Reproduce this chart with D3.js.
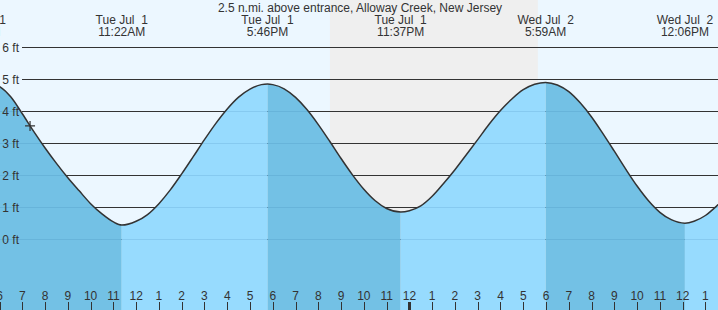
<!DOCTYPE html>
<html>
<head>
<meta charset="utf-8">
<script src="https://cdn.jsdelivr.net/npm/d3@7"></script>
<style>
  html, body { margin: 0; padding: 0; background: #fff; }
  svg { display: block; }
  text { font-family: "Liberation Sans", Arial, sans-serif; font-size: 12px; fill: #333; }
</style>
</head>
<body>
<div id="chart"></div>
<script>
// ---- data (hours since Jul 1 00:00, heights in ft) ----
const title = "2.5 n.mi. above entrance, Alloway Creek, New Jersey";

const tideTimes = [5.13, 6, 6.5, 7, 7.5, 8, 8.5, 9, 9.5, 10, 10.5, 11, 11.37,
  12, 12.5, 13, 13.5, 14, 14.5, 15, 15.5, 16, 16.5, 17, 17.5, 17.77,
  18, 18.5, 19, 19.5, 20, 20.5, 21, 21.5, 22, 22.5, 23, 23.62,
  24, 24.5, 25, 25.5, 26, 26.5, 27, 27.5, 28, 28.5, 29, 29.5, 29.98,
  30.5, 31, 31.5, 32, 32.5, 33, 33.5, 34, 34.5, 35, 35.5, 36.1,
  36.5, 37, 37.5, 38];
const tideHeights = [4.95, 4.78, 4.45, 3.93, 3.38, 2.86, 2.38, 1.93, 1.52, 1.12, 0.80, 0.55, 0.45,
  0.57, 0.78, 1.12, 1.55, 2.05, 2.58, 3.12, 3.63, 4.08, 4.45, 4.70, 4.84, 4.86,
  4.84, 4.71, 4.44, 4.06, 3.59, 3.07, 2.53, 2.02, 1.57, 1.21, 0.97, 0.86,
  0.90, 1.05, 1.35, 1.75, 2.18, 2.65, 3.12, 3.60, 4.03, 4.39, 4.68, 4.85, 4.91,
  4.83, 4.62, 4.27, 3.83, 3.31, 2.76, 2.20, 1.67, 1.21, 0.85, 0.62, 0.51,
  0.57, 0.75, 1.05, 1.40];

const extremeTimes = [5.13, 11.367, 17.767, 23.617, 29.983, 36.1];
const extremeDays = ["Tue Jul  1", "Tue Jul  1", "Tue Jul  1", "Tue Jul  1", "Wed Jul  2", "Wed Jul  2"];
const extremeClock = ["5:08AM", "11:22AM", "5:46PM", "11:37PM", "5:59AM", "12:06PM"];

const nightStart = 20.51;   // sunset Jul 1
const nightEnd = 29.64;     // sunrise Jul 2

const nowTime = 7.34;
const nowHeight = 3.55;

const yTicks = [0, 1, 2, 3, 4, 5, 6];
const yTickLabels = ["0 ft", "1 ft", "2 ft", "3 ft", "4 ft", "5 ft", "6 ft"];
const hourTicks = d3.range(6, 38);

// ---- layout ----
const W = 718, H = 310;
const x = d3.scaleLinear().domain([6.0207, 37.553]).range([0, W]);
const y = d3.scaleLinear().domain([0, 6]).range([239.5, 47.5]);

const svg = d3.select("#chart").append("svg").attr("width", W).attr("height", H);

// background: day and night
svg.append("rect").attr("x", 0).attr("y", 0).attr("width", W).attr("height", H).attr("fill", "#ecf7ff");
svg.append("rect").attr("x", x(nightStart)).attr("y", 0)
  .attr("width", x(nightEnd) - x(nightStart)).attr("height", H).attr("fill", "#efefef");

// grid lines (dark)
svg.append("g").selectAll("line").data(yTicks).join("line")
  .attr("x1", 22).attr("x2", W)
  .attr("y1", d => y(d)).attr("y2", d => y(d))
  .attr("stroke", "#333").attr("stroke-width", 1);

// tide area, coloured by falling / rising segment
const pts = tideTimes.map((t, i) => [t, tideHeights[i]]);
const area = d3.area().x(d => x(d[0])).y0(H).y1(d => y(d[1])).curve(d3.curveMonotoneX);
const line = d3.line().x(d => x(d[0])).y(d => y(d[1])).curve(d3.curveMonotoneX);

const defs = svg.append("defs");
const bounds = [x.domain()[0] - 1].concat(extremeTimes.slice(1)).concat([x.domain()[1] + 1]);
// first segment (before first low) is falling
for (let i = 0; i < bounds.length - 1; i++) {
  const id = "seg" + i;
  defs.append("clipPath").attr("id", id).append("rect")
    .attr("x", x(bounds[i])).attr("y", 0)
    .attr("width", x(bounds[i + 1]) - x(bounds[i])).attr("height", H);
  const falling = (i % 2 === 0);
  svg.append("path").datum(pts).attr("d", area)
    .attr("clip-path", `url(#${id})`)
    .attr("fill", falling ? "#73c1e5" : "#97dbfe");
}

// faint grid lines under water
defs.append("clipPath").attr("id", "water").append("path").datum(pts).attr("d", area);
svg.append("g").attr("clip-path", "url(#water)").selectAll("line").data(yTicks).join("line")
  .attr("x1", 0).attr("x2", W)
  .attr("y1", d => y(d)).attr("y2", d => y(d))
  .attr("stroke", "rgba(20,90,150,0.13)").attr("stroke-width", 1);

// curve
svg.append("path").datum(pts).attr("d", line)
  .attr("fill", "none").attr("stroke", "#333").attr("stroke-width", 1.5);

// current-time marker
const mx = x(nowTime), my = y(nowHeight);
svg.append("path").attr("d", `M${mx - 5},${my}H${mx + 5}M${mx},${my - 5}V${my + 5}`)
  .attr("stroke", "#333").attr("stroke-width", 1.2);

// y labels
svg.append("g").selectAll("text").data(yTicks).join("text")
  .attr("x", 19).attr("y", d => y(d) + 4).attr("text-anchor", "end")
  .text((d, i) => yTickLabels[i]);

// title
svg.append("text").attr("x", 360).attr("y", 12).attr("text-anchor", "middle").text(title);

// extreme labels
const lab = svg.append("g").selectAll("g").data(extremeTimes).join("g");
lab.append("text").attr("x", d => x(d)).attr("y", 24).attr("text-anchor", "middle")
  .style("white-space", "pre").attr("xml:space", "preserve")
  .text((d, i) => extremeDays[i]);
lab.append("text").attr("x", d => x(d)).attr("y", 36).attr("text-anchor", "middle")
  .text((d, i) => extremeClock[i]);

// hour axis
const hours = svg.append("g");
hours.selectAll("text").data(hourTicks).join("text")
  .attr("x", d => x(d)).attr("y", 300).attr("text-anchor", "middle")
  .text(d => (d % 12) || 12);
hours.selectAll("line").data(hourTicks).join("line")
  .attr("x1", d => Math.round(x(d)) + 0.5).attr("x2", d => Math.round(x(d)) + 0.5)
  .attr("y1", 302).attr("y2", H)
  .attr("stroke", "#333")
  .attr("stroke-width", d => d % 24 === 0 ? 3 : 1);
</script>
</body>
</html>
